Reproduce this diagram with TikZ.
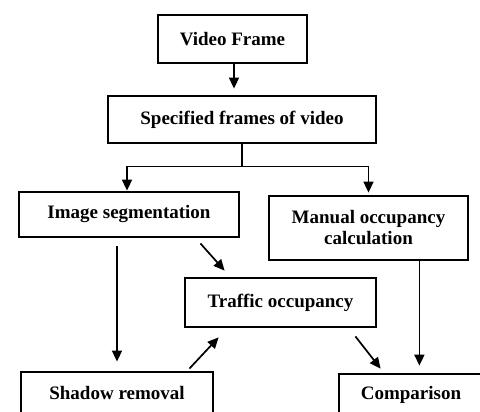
\documentclass[tikz,border=0pt]{standalone}
\usepackage{fontspec}
\setmainfont{Liberation Serif}
\usetikzlibrary{arrows.meta}
\tikzset{
  box/.style={draw, line width=2.8pt, inner sep=0pt, align=center,
    font=\fontsize{19}{21}\selectfont\bfseries},
  arr/.style={line width=1.7pt, -{Triangle[length=11pt,width=10pt]}},
  link/.style={line width=1.7pt}
}
\begin{document}
\begin{tikzpicture}[x=1pt,y=1pt]
\useasboundingbox (0,0) rectangle (480,-412);
\clip (0,0) rectangle (480,-412);
\fill[white] (0,0) rectangle (480,-412);

% boxes
\node[box, minimum width=149pt, minimum height=48pt] (vf)  at (232.5,-39)   {Video Frame};
\node[box, minimum width=268pt, minimum height=47pt] (sf)  at (242,-119.5)  {Specified frames of video};
\node[box, minimum width=220pt, minimum height=45pt] (seg) at (129,-214.5)  {Image segmentation};
\node[box, minimum width=199pt, minimum height=64pt] (man) at (368.5,-228)  {Manual occupancy\\calculation};
\node[box, minimum width=191pt, minimum height=49pt] (tra) at (280.5,-302.5){Traffic occupancy};
\node[box, minimum width=192pt, minimum height=42pt] (sha) at (117,-393)    {Shadow removal};
\node[box, minimum width=144pt, minimum height=42pt] (cmp) at (411,-395)    {Comparison};

% connectors
\draw[arr, shorten >=6pt] ([xshift=1.5pt]vf.south) -- ([xshift=1.5pt]vf.south |- sf.north);

\coordinate (j) at ([yshift=-22pt]sf.south);
\draw[link] (sf.south) -- (j);
\draw[arr] (j) -| ([xshift=-2pt]seg.north);
\draw[arr, shorten >=2pt] (j) -| (man.north);

\draw[arr] ([xshift=-12pt,yshift=-8pt]seg.south) -- ([yshift=9pt]sha.north);
\draw[arr] ([xshift=-40pt,yshift=-5pt]seg.south east) -- ([xshift=41pt,yshift=6pt]tra.north west);
\draw[arr] ([xshift=-25pt,yshift=2pt]sha.north east) -- ([xshift=35pt,yshift=-9pt]tra.south west);
\draw[arr] ([xshift=-22pt,yshift=-8pt]tra.south east) -- ([xshift=43pt,yshift=4pt]cmp.north west);

\coordinate (m1) at ([xshift=-50pt]man.south east);
\draw[arr, shorten >=7pt] (m1) -- (m1 |- cmp.north);
\end{tikzpicture}
\end{document}
